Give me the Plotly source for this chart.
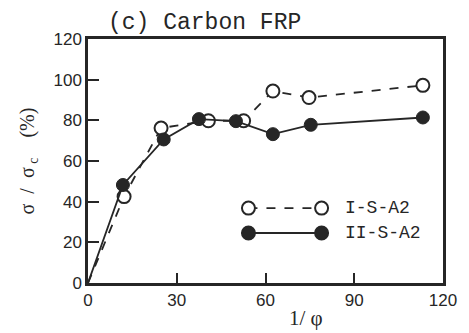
import plotly.graph_objects as go

# Data
x_open = [0, 12.2, 24.7, 40.7, 52.6, 62.5, 74.7, 113.2]
y_open = [0, 42.5, 76.2, 79.8, 79.8, 94.4, 91.2, 97.2]
x_fill = [0, 11.8, 25.6, 37.5, 50.0, 62.5, 75.3, 113.2]
y_fill = [0, 48.2, 70.6, 80.6, 79.6, 73.2, 77.8, 81.4]

series_names = ["I-S-A2", "II-S-A2"]
x_ticks = [0, 30, 60, 90, 120]
y_ticks = [0, 20, 40, 60, 80, 100, 120]

INK = "#262626"
MS = 13
# no marker drawn at the origin point
sizes_open = [0] + [MS] * (len(x_open) - 1)
sizes_fill = [0] + [MS] * (len(x_fill) - 1)

fig = go.Figure()

fig.add_trace(go.Scatter(
    x=x_open, y=y_open, mode="lines+markers", name=series_names[0],
    line=dict(color=INK, width=1.8, dash="dash"),
    marker=dict(symbol="circle", size=sizes_open, color="white", opacity=1,
                line=dict(color=INK, width=2)),
    showlegend=False, cliponaxis=False))
fig.add_trace(go.Scatter(
    x=x_fill, y=y_fill, mode="lines+markers", name=series_names[1],
    line=dict(color=INK, width=1.8),
    marker=dict(symbol="circle", size=sizes_fill, color=INK, opacity=1,
                line=dict(color=INK, width=1)),
    showlegend=False, cliponaxis=False))

# custom legend (paper coordinates)
shapes = []
ann = []
rows = [(0.307, "dash", "white", series_names[0]),
        (0.205, "solid", INK, series_names[1])]
for yy, dash, fill, label in rows:
    shapes.append(dict(type="line", xref="paper", yref="paper",
                       x0=0.452, x1=0.658, y0=yy, y1=yy,
                       line=dict(color=INK, width=1.8, dash=dash)))
    for xx in (0.452, 0.658):
        shapes.append(dict(type="circle", xref="paper", yref="paper",
                           xsizemode="pixel", ysizemode="pixel",
                           xanchor=xx, yanchor=yy,
                           x0=-6.5, x1=6.5, y0=-6.5, y1=6.5,
                           fillcolor=fill, line=dict(color=INK, width=2)))
    ann.append(dict(x=0.718, y=yy, xref="paper", yref="paper",
                    text=label, showarrow=False, xanchor="left", yanchor="middle",
                    font=dict(family="Liberation Mono", size=18, color=INK)))

ann.append(dict(x=0.05, y=1.0, xref="paper", yref="paper", yanchor="bottom",
                xanchor="left", yshift=1, text="(c) Carbon FRP", showarrow=False,
                font=dict(family="Liberation Mono", size=23, color=INK)))
ann.append(dict(x=0.615, y=0, xref="paper", yref="paper", yanchor="top",
                xanchor="center", yshift=-21, text="1/ φ", showarrow=False,
                font=dict(family="Liberation Serif", size=21, color=INK)))

fig.update_layout(
    width=469, height=333,
    margin=dict(l=88, r=16, t=39, b=50),
    plot_bgcolor="white", paper_bgcolor="white",
    shapes=shapes, annotations=ann,
    xaxis=dict(range=[0, 120], tickvals=x_ticks, ticks="inside", ticklen=10,
               tickwidth=2, tickcolor=INK, showline=True, linewidth=2.5,
               linecolor=INK, mirror=True, showgrid=False, zeroline=False,
               tickfont=dict(family="Liberation Sans", size=17, color=INK)),
    yaxis=dict(range=[0, 120], tickvals=y_ticks, ticks="inside", ticklen=11,
               tickwidth=2, tickcolor=INK, showline=True, linewidth=2.5,
               linecolor=INK, mirror=True, showgrid=False, zeroline=False,
               tickfont=dict(family="Liberation Sans", size=17, color=INK),
               title=dict(text="σ  /  σ<sub> c</sub>    (%)", standoff=14,
                          font=dict(family="Liberation Serif", size=20, color=INK))),
)

fig.write_html("out.html")
